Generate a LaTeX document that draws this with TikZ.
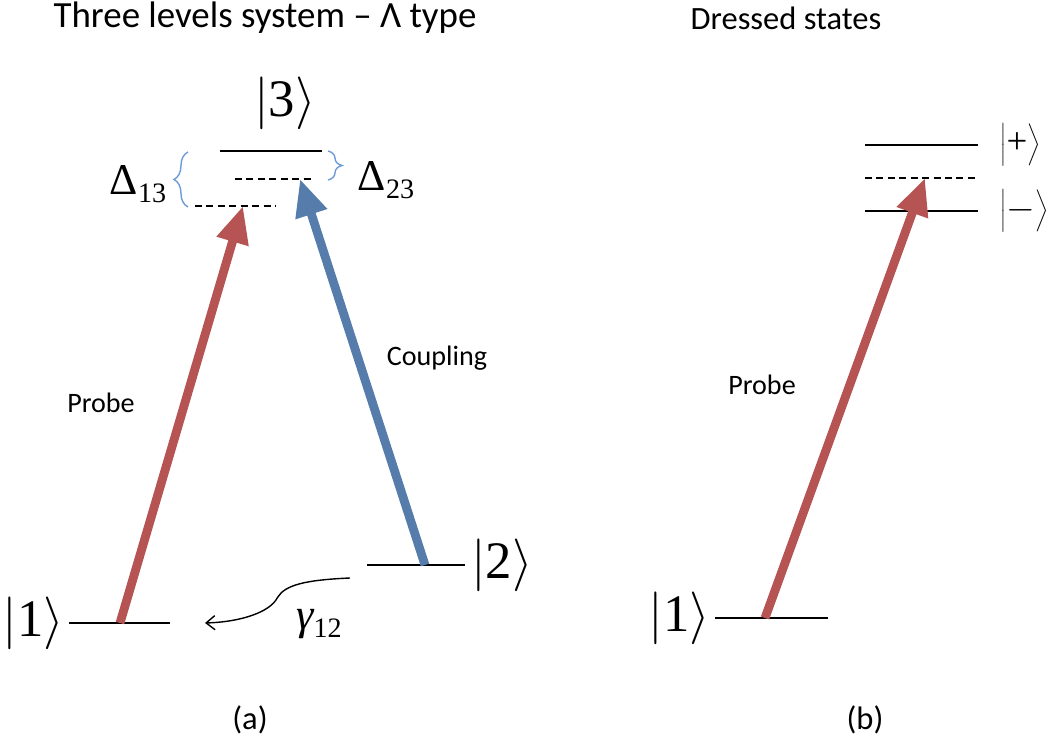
\documentclass[tikz,border=0pt]{standalone}
\usepackage{fix-cm}
\usepackage{fontspec}
\setmainfont{Carlito}
\newfontfamily\ketfont{Liberation Serif}
\usepackage{tikz}
\usetikzlibrary{arrows.meta,positioning,decorations.pathreplacing}
\definecolor{ProbeRed}{RGB}{182,84,84}
\definecolor{CouplingBlue}{RGB}{86,124,172}
\definecolor{BraceBlue}{RGB}{110,155,215}
\tikzset{
  level/.style={line width=1.1pt},
  virtual/.style={dashed,line width=1pt,dash pattern=on 4pt off 2.5pt},
  ket/.style={font=\fontsize{30}{36}\selectfont,inner sep=1pt},
  smallket/.style={font=\fontsize{21}{25}\selectfont,inner sep=0pt,anchor=west},
  detuning/.style={font=\ketfont\fontsize{25}{30}\selectfont,inner sep=1pt},
  label/.style={font=\fontsize{16}{19}\selectfont},
  title/.style={font=\fontsize{21}{25}\selectfont},
  subtitle/.style={font=\fontsize{18.5}{22}\selectfont},
  beam/.style={line width=5pt,-{Triangle[length=0.74cm,width=0.62cm]}},
  gap/.style={decorate,decoration={brace,amplitude=8pt},draw=BraceBlue,
    line width=0.8pt},
  decay/.style={-{Straight Barb[length=5pt,width=8pt]},thick}
}
\newcommand{\ket}[1]{$\left|\vphantom{\mbox{3}}\mbox{\ketfont #1}\right\rangle$}
\newcommand{\dket}[1]{$\left|\rule[-0.25cm]{0pt}{0.7cm}\mbox{\ketfont #1}\right\rangle$}
\newcommand{\sub}[1]{\raisebox{-0.4ex}{\fontsize{16}{18}\selectfont #1}}

\begin{document}
\begin{tikzpicture}[node distance=0.1cm]
\useasboundingbox (0,0) rectangle (21,15.1);

\node[title] (ta) at (5.3,14.74) {Three levels system – Λ type};
\node[subtitle] (tb) at (15.72,14.74) {Dressed states};

\coordinate (l1a) at (1.38,2.64);
\coordinate (l1b) at (3.4,2.64);
\coordinate (l2a) at (7.34,3.8);
\coordinate (l2b) at (9.3,3.8);
\coordinate (l3a) at (4.4,12.08);
\coordinate (l3b) at (6.44,12.08);
\coordinate (v23a) at (4.7,11.52);
\coordinate (v23b) at (6.26,11.52);
\coordinate (v13a) at (3.9,10.98);
\coordinate (v13b) at (5.5,10.98);

\draw[level] (l1a) -- (l1b);
\draw[level] (l2a) -- (l2b);
\draw[level] (l3a) -- (l3b);
\draw[virtual] (v23a) -- (v23b);
\draw[virtual] (v13a) -- (v13b);

\node[ket,left=0.06cm of l1a] (k1) {\ket{1}};
\node[ket,right=0.08cm of l2b] (k2) {\ket{2}};
\node[ket] (k3) at (5.7,13.04) {\ket{3}};

\coordinate (b13t) at (3.76,12.06);
\coordinate (b13b) at (3.76,10.96);
\coordinate (b23t) at (6.56,12.08);
\coordinate (b23b) at (6.56,11.5);
\draw[gap] (b13b) -- (b13t);
\draw[gap] (b23t) -- (b23b);
\node[detuning] (d13) at (2.76,11.42) {Δ\sub{13}};
\node[detuning] (d23) at (7.72,11.5) {Δ\sub{23}};

\coordinate (ps) at (2.4,2.64);
\coordinate (pe) at (4.86,10.98);
\coordinate (cs) at (8.5,3.8);
\coordinate (ce) at (6.0,11.52);
\draw[beam,ProbeRed] (ps) -- (pe);
\draw[beam,CouplingBlue] (cs) -- (ce);
\node[label] (probea) at (2.02,7.04) {Probe};
\node[label] (coupling) at (8.74,7.94) {Coupling};

\coordinate (gs) at (7.0,3.54);
\coordinate (ge) at (4.1,2.64);
\draw[decay] (gs) .. controls (6.1,3.5) and (5.7,3.4) .. (5.55,3.15)
  .. controls (5.4,2.85) and (4.8,2.66) .. (ge);
\node[detuning] (g12) at (6.38,2.62) {\itshape γ\sub{\upshape 12}};

\node[subtitle] (la) at (5.0,0.7) {(a)};

\coordinate (r1a) at (14.3,2.74);
\coordinate (r1b) at (16.56,2.74);
\coordinate (rpa) at (17.3,12.2);
\coordinate (rpb) at (19.56,12.2);
\coordinate (rva) at (17.3,11.54);
\coordinate (rvb) at (19.56,11.54);
\coordinate (rma) at (17.3,10.88);
\coordinate (rmb) at (19.56,10.88);

\draw[level] (r1a) -- (r1b);
\draw[level] (rpa) -- (rpb);
\draw[virtual] (rva) -- (rvb);
\draw[level] (rma) -- (rmb);

\node[ket,left=0.06cm of r1a] (rk1) {\ket{1}};
\node[smallket,right=0.45cm of rpb] (kp) {\dket{+}};
\node[smallket,right=0.45cm of rmb] (km) {\dket{$-$}};

\coordinate (qs) at (15.3,2.74);
\coordinate (qe) at (18.5,11.54);
\draw[beam,ProbeRed] (qs) -- (qe);
\node[label] (probeb) at (15.24,7.4) {Probe};

\node[subtitle] (lb) at (17.3,0.7) {(b)};

\end{tikzpicture}
\end{document}
